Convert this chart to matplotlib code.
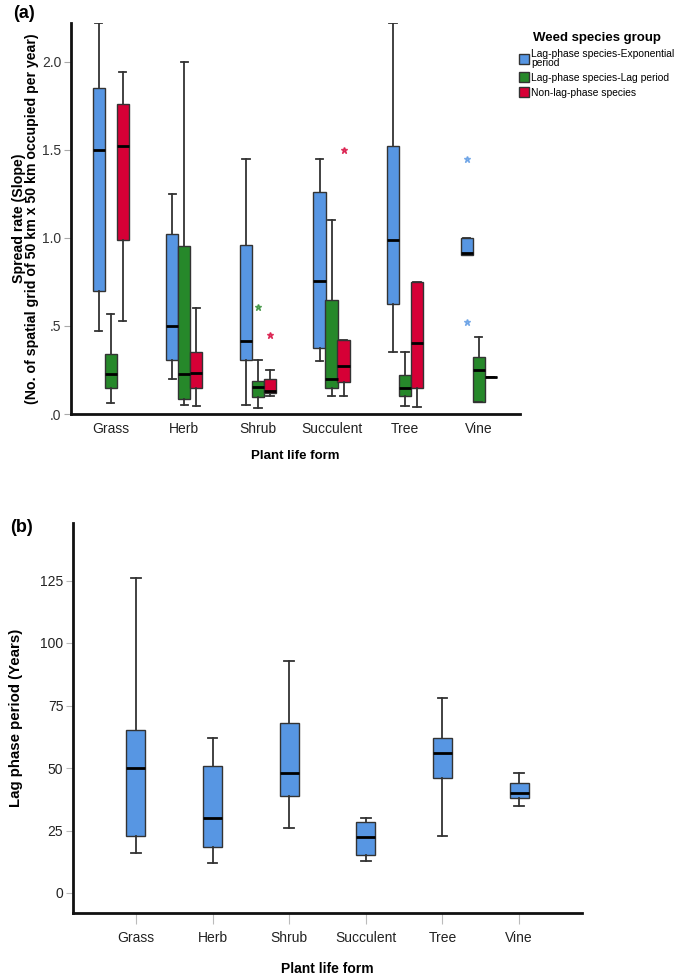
import matplotlib
matplotlib.use("Agg")
import matplotlib.pyplot as plt
from matplotlib.patches import Patch
import numpy as np

plt.rcParams['font.family'] = ['Liberation Sans', 'DejaVu Sans']

categories = ["Grass", "Herb", "Shrub", "Succulent", "Tree", "Vine"]
groups = ["Lag-phase species-Exponential\nperiod", "Lag-phase species-Lag period", "Non-lag-phase species"]
colors = ["#5796E3", "#26882A", "#D60036"]

# Panel (a): [whislo, q1, med, q3, whishi] per category, per group
exp_stats = [[0.47, 0.70, 1.50, 1.85, 2.22],
             [0.20, 0.305, 0.50, 1.02, 1.25],
             [0.05, 0.307, 0.415, 0.96, 1.45],
             [0.303, 0.375, 0.757, 1.26, 1.45],
             [0.35, 0.625, 0.99, 1.52, 2.22],
             [0.90, 0.90, 0.915, 1.00, 1.00]]
lag_stats = [[0.06, 0.15, 0.225, 0.34, 0.57],
             [0.05, 0.085, 0.225, 0.956, 2.00],
             [0.036, 0.095, 0.153, 0.19, 0.305],
             [0.10, 0.15, 0.20, 0.65, 1.10],
             [0.044, 0.10, 0.15, 0.22, 0.35],
             [0.068, 0.068, 0.248, 0.326, 0.435]]
non_stats = [[0.53, 0.99, 1.52, 1.76, 1.94],
             [0.044, 0.146, 0.235, 0.354, 0.60],
             [0.10, 0.12, 0.133, 0.20, 0.25],
             [0.10, 0.18, 0.27, 0.42, 0.42],
             [0.038, 0.146, 0.405, 0.75, 0.75],
             [0.208, 0.208, 0.208, 0.208, 0.208]]
exp_out = [[], [], [], [], [], [1.45, 0.52]]
lag_out = [[], [], [0.61], [], [], []]
non_out = [[], [], [0.45], [1.50], [], []]

# Panel (b): lag phase period
lag_period_stats = [[16, 23, 50, 65.2, 126.2],
                    [12, 18.5, 30, 51, 62],
                    [26, 39, 47.9, 68.2, 93],
                    [13, 15.4, 22.5, 28.5, 30],
                    [23, 46.1, 55.9, 62, 78.1],
                    [35, 37.9, 40, 44.1, 48.1]]

yticks_a = [0.0, 0.5, 1.0, 1.5, 2.0]
yticklabels_a = [".0", ".5", "1.0", "1.5", "2.0"]
yticks_b = [0, 25, 50, 75, 100, 125]


def to_bxp(rows, outs=None):
    res = []
    for i, r in enumerate(rows):
        d = dict(whislo=r[0], q1=r[1], med=r[2], q3=r[3], whishi=r[4])
        d['fliers'] = outs[i] if outs is not None else []
        res.append(d)
    return res


fig = plt.figure(figsize=(6.85, 9.75), dpi=100)

# ---------- Panel (a) ----------
axa = fig.add_axes([71/685, 1-414/975, 449/685, 391/975])
pos = np.arange(len(categories))
offs = [-0.163, 0.0, 0.163]
all_stats = [exp_stats, lag_stats, non_stats]
all_outs = [exp_out, lag_out, non_out]
for g in range(3):
    st = to_bxp(all_stats[g], all_outs[g])
    axa.bxp(st, positions=pos + offs[g], widths=0.165, patch_artist=True,
            showfliers=True,
            boxprops=dict(facecolor=colors[g], edgecolor="#333333", linewidth=1.0),
            medianprops=dict(color="black", linewidth=2.0),
            whiskerprops=dict(color="#333333", linewidth=1.3),
            capprops=dict(color="#333333", linewidth=1.3),
            capwidths=0.1,
            flierprops=dict(marker="*", markersize=5, markerfacecolor=colors[g],
                            markeredgecolor=colors[g], alpha=0.7, linestyle="none"))

axa.set_xlim(-0.54, 5.56)
axa.set_ylim(0, 2.22)
axa.set_yticks(yticks_a)
axa.set_yticklabels(yticklabels_a, fontsize=10, color="#333333")
axa.set_xticks(pos)
axa.set_xticklabels(categories, fontsize=10, color="#222222")
axa.tick_params(axis='x', length=0, pad=6)
axa.tick_params(axis='y', length=5, color="#aaaaaa", width=0.8, pad=2)
for s in ["top", "right"]:
    axa.spines[s].set_visible(False)
for s in ["left", "bottom"]:
    axa.spines[s].set_linewidth(2.0)
    axa.spines[s].set_color("#111111")
axa.set_ylabel("Spread rate (Slope)\n(No. of spatial grid of 50 km x 50 km occupied per year)",
               fontsize=10.2, fontweight="bold", labelpad=2, linespacing=0.95)
axa.set_xlabel("Plant life form", fontsize=9.5, fontweight="bold", labelpad=10)

handles = [Patch(facecolor=colors[i], edgecolor="#333333", linewidth=1.0) for i in range(3)]
leg = fig.legend(handles, groups, loc="upper left", bbox_to_anchor=(515/685, 1-28/975),
                 frameon=False, fontsize=7.4, title="Weed species group",
                 handlelength=0.95, handleheight=1.1, handletextpad=0.25,
                 labelspacing=0.45, borderaxespad=0)
leg.get_title().set_fontweight("bold")
leg.get_title().set_fontsize(9.5)
for t in leg.get_texts():
    t.set_linespacing(0.85)

fig.text(13/685, 1-13/975, "(a)", fontsize=13, fontweight="bold", va="center", ha="left")

# ---------- Panel (b) ----------
axb = fig.add_axes([73/685, 1-913/975, 509/685, 390/975])
axb.bxp(to_bxp(lag_period_stats), positions=pos, widths=0.25, patch_artist=True,
        showfliers=False,
        boxprops=dict(facecolor=colors[0], edgecolor="#333333", linewidth=1.0),
        medianprops=dict(color="black", linewidth=2.0),
        whiskerprops=dict(color="#333333", linewidth=1.3),
        capprops=dict(color="#333333", linewidth=1.3),
        capwidths=0.13)
axb.set_xlim(-0.82, 5.82)
axb.set_ylim(-8, 148)
axb.set_yticks(yticks_b)
axb.set_yticklabels([str(v) for v in yticks_b], fontsize=10, color="#222222")
axb.set_xticks(pos)
axb.set_xticklabels(categories, fontsize=10, color="#222222")
axb.tick_params(axis='x', length=8, color="#bbbbbb", width=0.8, pad=5)
axb.tick_params(axis='y', length=5, color="#bbbbbb", width=0.8, pad=2)
for s in ["top", "right"]:
    axb.spines[s].set_visible(False)
for s in ["left", "bottom"]:
    axb.spines[s].set_linewidth(2.0)
    axb.spines[s].set_color("#111111")
axb.set_ylabel("Lag phase period (Years)", fontsize=10.8, fontweight="bold", labelpad=12)
axb.set_xlabel("Plant life form", fontsize=10, fontweight="bold", labelpad=12)

fig.text(10/685, 1-527/975, "(b)", fontsize=13, fontweight="bold", va="center", ha="left")

fig.savefig("out.png", dpi=100)
